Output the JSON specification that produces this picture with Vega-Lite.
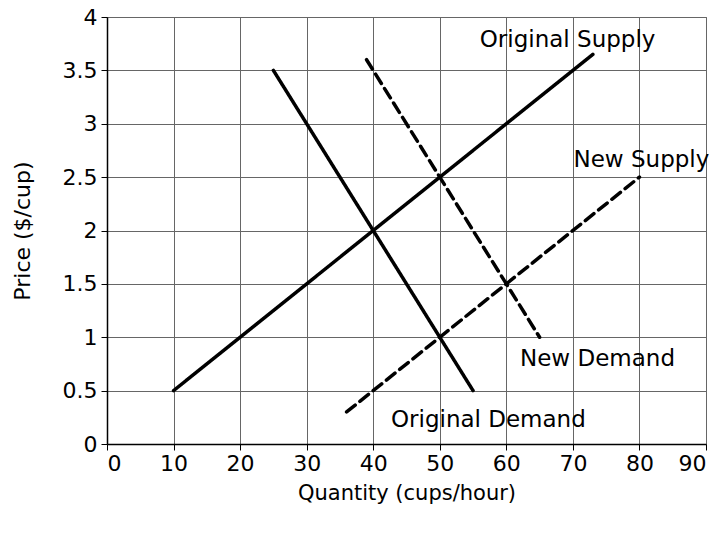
{
  "$schema": "https://vega.github.io/schema/vega-lite/v6.json",
  "width": 599,
  "height": 427,
  "autosize": "none",
  "padding": {"left": 107, "top": 17, "right": 14, "bottom": 90},
  "background": "white",
  "config": {"view": {"stroke": "#666666", "strokeWidth": 1}, "font": "DejaVu Sans"},
  "layer": [
    {
      "data": {"values": [
        {"series": "Original Supply", "q": 10, "p": 0.5},
        {"series": "Original Supply", "q": 73, "p": 3.65},
        {"series": "Original Demand", "q": 25, "p": 3.5},
        {"series": "Original Demand", "q": 55, "p": 0.5},
        {"series": "New Supply", "q": 36, "p": 0.3},
        {"series": "New Supply", "q": 80, "p": 2.5},
        {"series": "New Demand", "q": 39, "p": 3.6},
        {"series": "New Demand", "q": 65, "p": 1.0}
      ]},
      "mark": {"type": "line", "strokeWidth": 3.5, "color": "black", "strokeCap": "round"},
      "encoding": {
        "x": {"field": "q", "type": "quantitative", "scale": {"domain": [0, 90], "nice": false},
          "axis": {"values": [0,10,20,30,40,50,60,70,80,90], "title": "Quantity (cups/hour)", "grid": true, "gridColor": "#666666", "gridOpacity": 1, "gridWidth": 1,
            "domainColor": "black", "domainWidth": 1.5, "tickColor": "black", "tickSize": 6, "labelFontSize": 22, "labelColor": "black", "labelPadding": 3,
            "titleFontSize": 21, "titleFontWeight": "normal", "titleColor": "black", "titlePadding": 8}},
        "y": {"field": "p", "type": "quantitative", "scale": {"domain": [0, 4], "nice": false},
          "axis": {"values": [0,0.5,1,1.5,2,2.5,3,3.5,4], "format": "~g", "title": "Price ($/cup)", "grid": true, "gridColor": "#666666", "gridOpacity": 1, "gridWidth": 1,
            "domainColor": "black", "domainWidth": 1.5, "tickColor": "black", "tickSize": 6, "labelFontSize": 22, "labelColor": "black", "labelPadding": 4,
            "titleFontSize": 22, "titleFontWeight": "normal", "titleColor": "black", "titlePadding": 28}},
        "detail": {"field": "series"},
        "strokeDash": {"field": "series", "type": "nominal",
          "scale": {"domain": ["Original Supply", "Original Demand", "New Supply", "New Demand"], "range": [[1, 0], [1, 0], [11, 6], [11, 6]]},
          "legend": null}
      }
    },
    {
      "data": {"values": [
        {"label": "Original Supply", "q": 69.2, "p": 3.78},
        {"label": "New Supply", "q": 80.3, "p": 2.66},
        {"label": "New Demand", "q": 73.7, "p": 0.8},
        {"label": "Original Demand", "q": 57.3, "p": 0.225}
      ]},
      "mark": {"type": "text", "fontSize": 23, "color": "black", "align": "center", "baseline": "middle"},
      "encoding": {
        "x": {"field": "q", "type": "quantitative"},
        "y": {"field": "p", "type": "quantitative"},
        "text": {"field": "label"}
      }
    }
  ]
}
